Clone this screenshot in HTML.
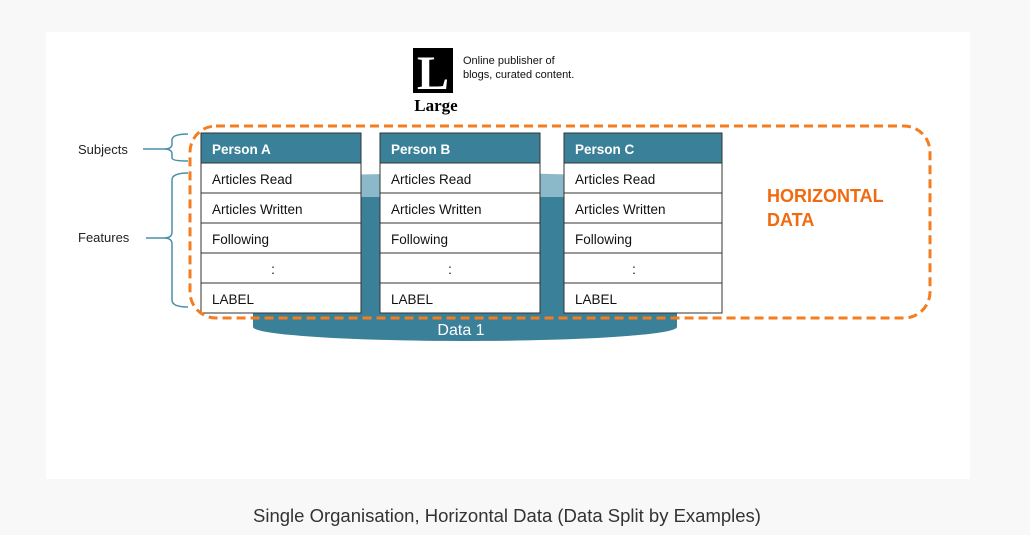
<!DOCTYPE html>
<html><head><style>
html,body{margin:0;padding:0;background:#f8f8f8;width:1030px;height:535px;overflow:hidden;font-family:"Liberation Sans",sans-serif}
</style></head><body>
<svg width="1030" height="535" xmlns="http://www.w3.org/2000/svg" style="position:absolute;left:0;top:0">
<rect x="46" y="32" width="924" height="447" fill="#fff"/>
<!-- logo -->
<rect x="413" y="48" width="40" height="45" fill="#000"/>
<text x="433" y="89" font-family="Liberation Serif" font-weight="bold" font-size="48" fill="#fff" text-anchor="middle">L</text>
<text x="436" y="111" font-family="Liberation Serif" font-weight="bold" font-size="17" fill="#000" text-anchor="middle">Large</text>
<text x="463" y="64" font-size="11" fill="#111">Online publisher of</text>
<text x="463" y="78" font-size="11" fill="#111">blogs, curated content.</text>
<!-- cylinder -->
<ellipse cx="465" cy="327" rx="212" ry="14" fill="#3a8099"/>
<rect x="253" y="185" width="424" height="142" fill="#3a8099"/>
<ellipse cx="465" cy="185" rx="212" ry="12" fill="#8cb9c9"/>
<rect x="253" y="183" width="424" height="14" fill="#8cb9c9"/>
<text x="461" y="335" font-size="16" fill="#fff" text-anchor="middle">Data  1</text>
<!-- tables -->
<g font-size="13.5" fill="#111" stroke="none">
<g transform="translate(201,133)">
<rect x="0" y="0" width="160" height="30" fill="#3a8099" stroke="#333"/>
<rect x="0" y="30" width="160" height="150" fill="#fff" stroke="#333"/>
<path d="M0 60H160M0 90H160M0 120H160M0 150H160" stroke="#333"/>
<text x="11" y="21" fill="#fff" font-weight="bold">Person A</text>
<text x="11" y="51">Articles Read</text><text x="11" y="81">Articles Written</text><text x="11" y="111">Following</text><text x="72" y="141" text-anchor="middle">:</text><text x="11" y="171">LABEL</text>
</g>
<g transform="translate(380,133)">
<rect x="0" y="0" width="160" height="30" fill="#3a8099" stroke="#333"/>
<rect x="0" y="30" width="160" height="150" fill="#fff" stroke="#333"/>
<path d="M0 60H160M0 90H160M0 120H160M0 150H160" stroke="#333"/>
<text x="11" y="21" fill="#fff" font-weight="bold">Person B</text>
<text x="11" y="51">Articles Read</text><text x="11" y="81">Articles Written</text><text x="11" y="111">Following</text><text x="70" y="141" text-anchor="middle">:</text><text x="11" y="171">LABEL</text>
</g>
<g transform="translate(564,133)">
<rect x="0" y="0" width="158" height="30" fill="#3a8099" stroke="#333"/>
<rect x="0" y="30" width="158" height="150" fill="#fff" stroke="#333"/>
<path d="M0 60H158M0 90H158M0 120H158M0 150H158" stroke="#333"/>
<text x="11" y="21" fill="#fff" font-weight="bold">Person C</text>
<text x="11" y="51">Articles Read</text><text x="11" y="81">Articles Written</text><text x="11" y="111">Following</text><text x="70" y="141" text-anchor="middle">:</text><text x="11" y="171">LABEL</text>
</g>
</g>
<!-- dashed boundary -->
<rect x="190" y="126" width="740" height="192" rx="26" fill="none" stroke="#f57c1f" stroke-width="3" stroke-dasharray="9,5"/>
<text x="767" y="202" font-size="18" font-weight="bold" fill="#f06a10">HORIZONTAL</text>
<text x="767" y="226" font-size="18" font-weight="bold" fill="#f06a10">DATA</text>
<!-- braces -->
<g fill="none" stroke="#4a90a8" stroke-width="1.5">
<path d="M188 134 Q172 134 172 140 V144 Q172 149 164 149 H143 M164 149 Q172 149 172 154 V158 Q172 161 188 161"/>
<path d="M188 173 Q172 173 172 180 V232 Q172 238 164 238 H146 M164 238 Q172 238 172 244 V300 Q172 307 188 307"/>
</g>
<text x="78" y="154" font-size="13" fill="#222">Subjects</text>
<text x="78" y="242" font-size="13" fill="#222">Features</text>
<text x="507" y="522" font-size="18.5" fill="#333" text-anchor="middle">Single Organisation, Horizontal Data (Data Split by Examples)</text>
</svg>
</body></html>
